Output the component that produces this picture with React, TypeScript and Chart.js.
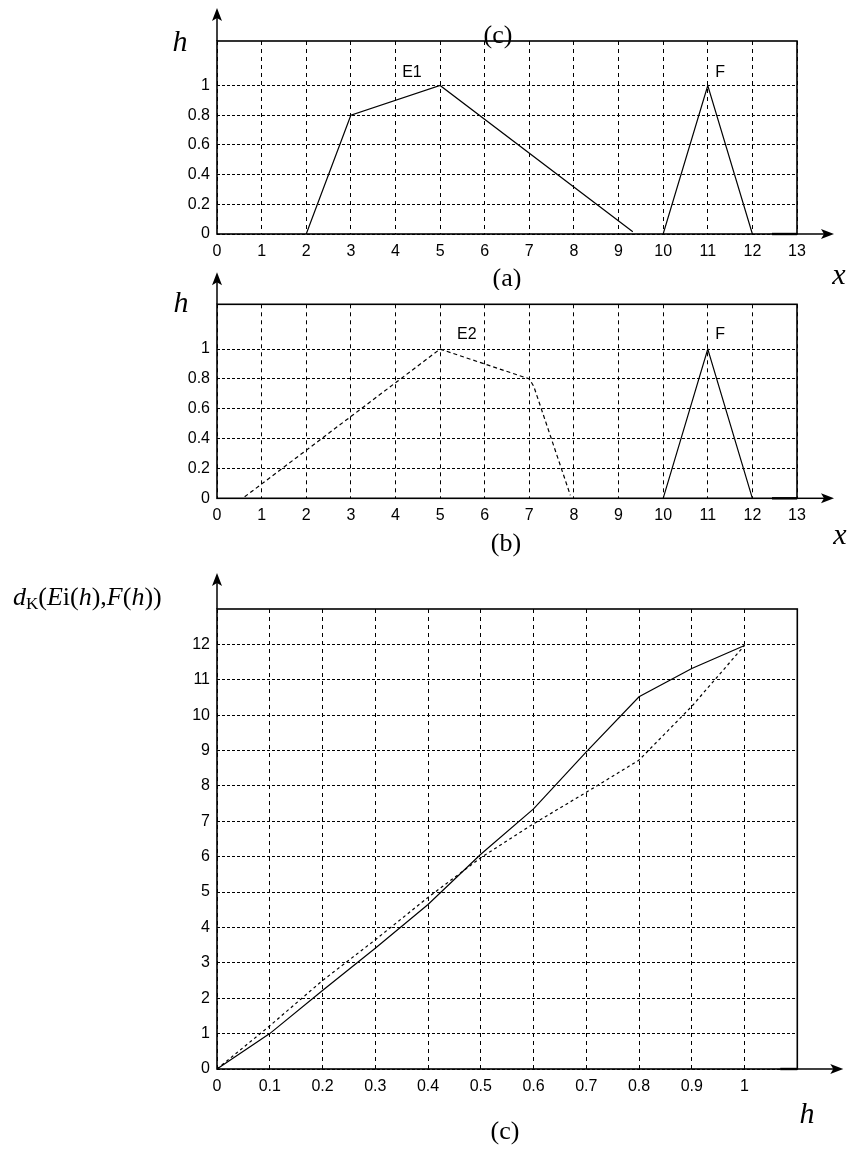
import React, { useEffect, useRef } from "react";
import { Chart, registerables } from "chart.js";

Chart.register(...registerables);

// ---------- data ----------
const xTicks = [0, 1, 2, 3, 4, 5, 6, 7, 8, 9, 10, 11, 12, 13];
const hTicks = [0, 0.2, 0.4, 0.6, 0.8, 1];

const e1X = [2, 3, 5, 9.32];
const e1H = [0, 0.8, 1, 0.015];

const e2X = [0.62, 5, 7, 7.1, 7.92];
const e2H = [0.01, 1, 0.8, 0.75, 0.02];

const fX = [10, 11, 12];
const fH = [0, 1, 0];

const hLevels = [0, 0.1, 0.2, 0.3, 0.4, 0.5, 0.6, 0.7, 0.8, 0.9, 1];
const dE1 = [0, 1.0, 2.22, 3.41, 4.65, 6.07, 7.35, 8.96, 10.52, 11.32, 11.97];
const dE2 = [0, 1.22, 2.5, 3.65, 4.85, 5.97, 6.93, 7.82, 8.73, 10.25, 11.97];

const dTicks = [0, 1, 2, 3, 4, 5, 6, 7, 8, 9, 10, 11, 12];
const hAxisTicks = [0, 0.1, 0.2, 0.3, 0.4, 0.5, 0.6, 0.7, 0.8, 0.9, 1];

// ---------- styling ----------
const TICK_FONT = { family: "'Liberation Sans', Arial, sans-serif", size: 16 };
const SERIF = "'Liberation Serif', 'Times New Roman', serif";
const SANS = "'Liberation Sans', Arial, sans-serif";

const pts = (xs: number[], ys: number[]) => xs.map((x, i) => ({ x, y: ys[i] }));
const fmt = (v: number) => String(+Number(v).toFixed(1));

function makeScales(xMin: number, xMax: number, xT: number[], yMin: number, yMax: number, yT: number[]) {
  return {
    x: {
      type: "linear",
      min: xMin,
      max: xMax,
      afterBuildTicks: (s: any) => {
        s.ticks = xT.map((v) => ({ value: v }));
      },
      afterFit: (s: any) => {
        s.height = 30;
      },
      ticks: { color: "#000", font: TICK_FONT, padding: 8, maxRotation: 0, autoSkip: false, callback: (v: any) => fmt(v) },
      grid: { color: "#000", lineWidth: 1, drawTicks: false },
      border: { display: false, dash: [4, 4] },
    },
    y: {
      type: "linear",
      min: yMin,
      max: yMax,
      afterBuildTicks: (s: any) => {
        s.ticks = yT.map((v) => ({ value: v }));
      },
      afterFit: (s: any) => {
        s.width = 217;
      },
      ticks: { color: "#000", font: TICK_FONT, padding: 7, autoSkip: false, callback: (v: any) => fmt(v) },
      grid: { color: "#000", lineWidth: 1, drawTicks: false },
      border: { display: false, dash: [3, 2] },
    },
  };
}

type Run = { t: string; style?: string; size?: number; dy?: number };

const decorPlugin = {
  id: "decor",
  afterDraw(chart: any, _args: any, opts: any) {
    const ctx = chart.ctx as CanvasRenderingContext2D;
    const { left, right, top, bottom } = chart.chartArea;
    const off = opts.canvasTop || 0;
    ctx.save();
    // frame
    ctx.strokeStyle = "#000";
    ctx.lineWidth = 1.6;
    ctx.setLineDash([]);
    ctx.strokeRect(left, top, right - left, bottom - top);

    // vertical arrow
    const vTip = top - opts.vLen;
    ctx.lineWidth = 1.5;
    ctx.beginPath();
    ctx.moveTo(left, top);
    ctx.lineTo(left, vTip + 8);
    ctx.stroke();
    ctx.fillStyle = "#000";
    ctx.beginPath();
    ctx.moveTo(left, vTip);
    ctx.lineTo(left - 5, vTip + 13);
    ctx.lineTo(left, vTip + 10);
    ctx.lineTo(left + 5, vTip + 13);
    ctx.closePath();
    ctx.fill();

    // horizontal arrow
    const hStart = right - opts.hIn;
    const hTip = right + opts.hOut;
    ctx.lineWidth = 2.4;
    ctx.beginPath();
    ctx.moveTo(hStart, bottom);
    ctx.lineTo(right, bottom);
    ctx.stroke();
    ctx.lineWidth = 1.5;
    ctx.beginPath();
    ctx.moveTo(right, bottom);
    ctx.lineTo(hTip - 8, bottom);
    ctx.stroke();
    ctx.beginPath();
    ctx.moveTo(hTip, bottom);
    ctx.lineTo(hTip - 13, bottom - 5);
    ctx.lineTo(hTip - 10, bottom);
    ctx.lineTo(hTip - 13, bottom + 5);
    ctx.closePath();
    ctx.fill();

    // page-positioned labels
    ctx.textBaseline = "middle";
    for (const l of opts.labels || []) {
      ctx.font = l.font;
      ctx.textAlign = l.align || "center";
      ctx.fillText(l.text, l.x, l.y - off);
    }
    // data-anchored labels
    const xs = chart.scales.x;
    const ys = chart.scales.y;
    for (const l of opts.dataLabels || []) {
      ctx.font = l.font;
      ctx.textAlign = "center";
      ctx.fillText(l.text, xs.getPixelForValue(l.x), ys.getPixelForValue(l.y));
    }
    // rich label (runs)
    if (opts.rich) {
      let x = opts.rich.x;
      const y = opts.rich.y - off;
      ctx.textAlign = "left";
      ctx.textBaseline = "alphabetic";
      for (const r of opts.rich.runs as Run[]) {
        ctx.font = `${r.style || ""} ${r.size || opts.rich.size}px ${SERIF}`;
        ctx.fillText(r.t, x, y + (r.dy || 0));
        x += ctx.measureText(r.t).width;
      }
    }
    ctx.restore();
  },
};

function lineDs(data: any[], dash: number[] = []) {
  return {
    data,
    borderColor: "#000",
    borderWidth: 1.2,
    borderDash: dash,
    pointRadius: 0,
    fill: false,
    tension: 0,
  };
}

function baseOptions(padding: any, scales: any, decor: any) {
  return {
    responsive: false,
    animation: false,
    devicePixelRatio: 1,
    layout: { padding },
    scales,
    plugins: { legend: { display: false }, tooltip: { enabled: false }, title: { display: false }, decor },
  };
}

const ITALIC_BIG = `italic 30px ${SERIF}`;
const CAPTION = `26px ${SERIF}`;
const SMALL = `16px ${SANS}`;

function configA() {
  return {
    type: "line",
    data: { datasets: [lineDs(pts(e1X, e1H)), lineDs(pts(fX, fH))] },
    options: baseOptions(
      { top: 41, left: 0, right: 56, bottom: 26 },
      makeScales(0, 13, xTicks, 0, 1.3, hTicks),
      {
        canvasTop: 0,
        vLen: 33,
        hIn: 25,
        hOut: 37,
        labels: [
          { text: "h", x: 180, y: 43, font: ITALIC_BIG },
          { text: "(c)", x: 498, y: 36, font: CAPTION },
          { text: "(a)", x: 507, y: 279, font: CAPTION },
          { text: "x", x: 839, y: 276, font: ITALIC_BIG },
        ],
        dataLabels: [
          { text: "E1", x: 4.37, y: 1.09, font: SMALL },
          { text: "F", x: 11.28, y: 1.09, font: SMALL },
        ],
      }
    ),
    plugins: [decorPlugin],
  };
}

function configB() {
  const top = 262;
  return {
    type: "line",
    data: { datasets: [lineDs(pts(e2X, e2H), [4, 3]), lineDs(pts(fX, fH))] },
    options: baseOptions(
      { top: 304.3 - top, left: 0, right: 56, bottom: 298 - (498.3 - top) - 30 },
      makeScales(0, 13, xTicks, 0, 1.3, hTicks),
      {
        canvasTop: top,
        vLen: 32,
        hIn: 25,
        hOut: 37,
        labels: [
          { text: "h", x: 181, y: 304, font: ITALIC_BIG },
          { text: "(b)", x: 506, y: 544, font: CAPTION },
          { text: "x", x: 840, y: 536, font: ITALIC_BIG },
        ],
        dataLabels: [
          { text: "E2", x: 5.6, y: 1.094, font: SMALL },
          { text: "F", x: 11.28, y: 1.094, font: SMALL },
        ],
      }
    ),
    plugins: [decorPlugin],
  };
}

function configC() {
  const top = 560;
  return {
    type: "line",
    data: { datasets: [lineDs(pts(hLevels, dE1)), lineDs(pts(hLevels, dE2), [3, 3])] },
    options: baseOptions(
      { top: 609 - top, left: 0, right: 853 - 797.3, bottom: 591 - (1069 - top) - 30 },
      makeScales(0, 1.1, hAxisTicks, 0, 13, dTicks),
      {
        canvasTop: top,
        vLen: 36,
        hIn: 17,
        hOut: 46,
        labels: [
          { text: "h", x: 807, y: 1115, font: ITALIC_BIG },
          { text: "(c)", x: 505, y: 1132, font: CAPTION },
        ],
        rich: {
          x: 13,
          y: 605,
          size: 26,
          runs: [
            { t: "d", style: "italic" },
            { t: "K", size: 17, dy: 4 },
            { t: "(" },
            { t: "E", style: "italic" },
            { t: "i" },
            { t: "(" },
            { t: "h", style: "italic" },
            { t: ")," },
            { t: "F", style: "italic" },
            { t: "(" },
            { t: "h", style: "italic" },
            { t: "))" },
          ],
        },
      }
    ),
    plugins: [decorPlugin],
  };
}

function ChartCanvas({ top, height, make }: { top: number; height: number; make: () => any }) {
  const ref = useRef<HTMLCanvasElement>(null);
  useEffect(() => {
    const chart = new Chart(ref.current as HTMLCanvasElement, make());
    return () => chart.destroy();
  }, [make]);
  return (
    <canvas
      ref={ref}
      width={853}
      height={height}
      style={{ position: "absolute", left: 0, top, width: 853, height, display: "block" }}
    />
  );
}

export default function App() {
  return (
    <div style={{ position: "absolute", left: 0, top: 0, width: 853, height: 1151, background: "#fff" }}>
      <ChartCanvas top={0} height={290} make={configA} />
      <ChartCanvas top={262} height={298} make={configB} />
      <ChartCanvas top={560} height={591} make={configC} />
    </div>
  );
}
